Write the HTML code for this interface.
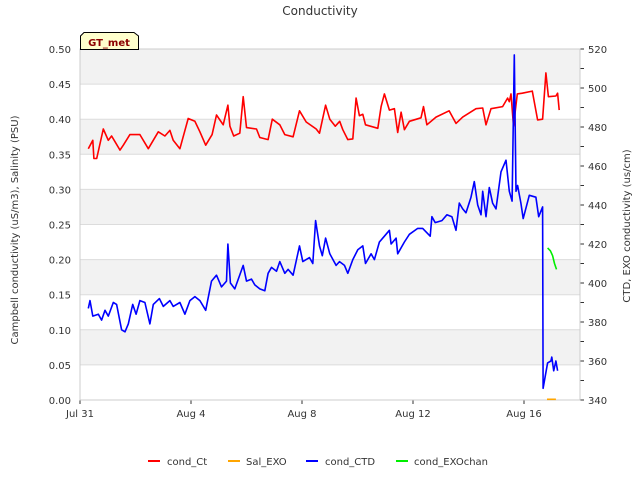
<!DOCTYPE html>
<html><head><meta charset="utf-8"><style>
body{margin:0;background:#fff;font-family:"Liberation Sans","DejaVu Sans",sans-serif}
</style></head><body>
<svg id="c" width="640" height="480" xmlns="http://www.w3.org/2000/svg" font-family="DejaVu Sans, Liberation Sans, sans-serif"></svg>
<script>
const xTickLabels=["Jul 31","Aug 4","Aug 8","Aug 12","Aug 16"];
const xTickDays=[0,4,8,12,16];
const leftTicks=[0,0.05,0.1,0.15,0.2,0.25,0.3,0.35,0.4,0.45,0.5];
const rightTicks=[340,360,380,400,420,440,460,480,500,520];
const ctDays=[0.3,0.46,0.5,0.6,0.84,1.02,1.14,1.26,1.44,1.56,1.8,2.16,2.46,2.82,3.06,3.24,3.36,3.6,3.9,4.14,4.32,4.53,4.76,4.92,5.16,5.33,5.4,5.54,5.76,5.88,6.0,6.36,6.48,6.78,6.93,7.2,7.38,7.68,7.91,8.15,8.51,8.63,8.85,9.0,9.2,9.36,9.47,9.65,9.83,9.95,10.07,10.19,10.29,10.73,10.85,10.97,11.15,11.33,11.45,11.57,11.69,11.87,12.29,12.38,12.5,12.83,13.3,13.55,13.79,14.27,14.51,14.63,14.81,15.23,15.41,15.47,15.53,15.62,15.76,15.94,16.3,16.49,16.67,16.79,16.88,17.15,17.21,17.27];
const ctVals=[0.358,0.37,0.344,0.344,0.386,0.37,0.376,0.368,0.356,0.363,0.378,0.378,0.358,0.382,0.376,0.384,0.37,0.358,0.401,0.397,0.382,0.363,0.378,0.406,0.392,0.42,0.39,0.376,0.38,0.432,0.388,0.386,0.374,0.371,0.4,0.392,0.378,0.375,0.412,0.396,0.386,0.38,0.42,0.4,0.39,0.397,0.385,0.371,0.372,0.43,0.405,0.407,0.392,0.387,0.418,0.436,0.413,0.415,0.381,0.41,0.385,0.397,0.402,0.418,0.392,0.403,0.412,0.394,0.403,0.415,0.416,0.392,0.415,0.418,0.43,0.425,0.436,0.39,0.436,0.437,0.44,0.399,0.4,0.466,0.432,0.433,0.437,0.413];
const ctdDays=[0.3,0.36,0.46,0.66,0.78,0.9,1.02,1.2,1.32,1.5,1.62,1.74,1.9,2.02,2.16,2.34,2.52,2.64,2.86,3.0,3.24,3.36,3.6,3.78,3.96,4.14,4.32,4.53,4.74,4.92,5.1,5.28,5.33,5.42,5.58,5.88,6.0,6.18,6.3,6.48,6.66,6.78,6.9,7.08,7.2,7.38,7.5,7.68,7.91,8.03,8.27,8.39,8.49,8.63,8.73,8.85,9.0,9.23,9.35,9.53,9.65,9.83,10.01,10.19,10.29,10.49,10.61,10.79,10.97,11.15,11.21,11.39,11.45,11.69,11.87,12.17,12.35,12.62,12.68,12.8,13.04,13.22,13.4,13.55,13.67,13.79,13.91,14.09,14.21,14.33,14.45,14.51,14.63,14.75,14.87,14.99,15.17,15.35,15.47,15.57,15.65,15.71,15.77,15.89,15.97,16.19,16.43,16.53,16.67,16.69,16.85,16.97,17.0,17.07,17.15,17.21];
const ctdVals=[387,391,383,384,381,386,383,390,389,376,375,379,389,384,391,390,379,389,392,388,391,388,390,384,391,393,391,386,401,404,398,401,420,400,397,409,401,402,399,397,396,405,408,406,411,405,407,404,419,411,413,410,432,419,414,423,415,409,411,409,405,412,417,419,410,415,412,421,424,427,420,423,415,421,425,428,428,424,434,431,432,435,434,427,441,438,436,444,452,440,435,447,434,449,441,438,457,463,447,442,517,447,450,441,433,445,444,434,439,346,359,360,362,355,360,355];
const exoDays=[16.85,16.95,17.03,17.1,17.17];
const exoVals=[418,416.5,414,410,407];
const salDays=[16.83,17.15];
const salVals=[0.001,0.001];

const svg=document.getElementById('c');const NS='http://www.w3.org/2000/svg';
const X0=80,X1=580,Y0=49,Y1=400,PXD=(524-80)/16;
const xs=d=>X0+d*PXD;
const yl=v=>Y1-v/0.5*(Y1-Y0);
const yr=v=>Y1-(v-340)/180*(Y1-Y0);
function el(t,a,txt){const e=document.createElementNS(NS,t);for(const k in a)e.setAttribute(k,a[k]);if(txt!==undefined)e.textContent=txt;svg.appendChild(e);return e;}
// bands
for(let i=0;i<10;i++){const lo=i*0.05,hi=lo+0.05;if(i%2===1){const r=el('rect',{x:X0,y:yl(hi),width:X1-X0,height:yl(lo)-yl(hi),fill:'#f2f2f2'});

}}
leftTicks.forEach(v=>{const l=el('line',{x1:X0,x2:X1,y1:yl(v),y2:yl(v),stroke:'#dcdcdc','stroke-width':1});


const t=el('text',{x:X0-9,y:yl(v)+4,'text-anchor':'end','font-size':10,fill:'#333'},v.toFixed(2));

});
rightTicks.forEach(v=>{el('line',{x1:X1,x2:X1+4,y1:yr(v),y2:yr(v),stroke:'#333'});
const t=el('text',{x:X1+8,y:yr(v)+4,'font-size':10,fill:'#333'},v);


if(v<520)el('line',{x1:X1,x2:X1+4,y1:yr(v+10),y2:yr(v+10),stroke:'#333'});});
xTickDays.forEach((d,i)=>{el('line',{x1:xs(d),x2:xs(d),y1:Y1,y2:Y1+4,stroke:'#333'});
const t=el('text',{x:xs(d),y:Y1+17,'text-anchor':'middle','font-size':10,fill:'#333'},xTickLabels[i]);

});
const ax=el('rect',{x:X0,y:Y0,width:X1-X0,height:Y1-Y0,fill:'none',stroke:'#ccc'});


function line(ds,vs,f,c,name){const p=el('polyline',{points:ds.map((d,i)=>xs(d).toFixed(1)+','+f(vs[i]).toFixed(1)).join(' '),fill:'none',stroke:c,'stroke-width':1.6,'stroke-linejoin':'round'});

}
line(ctDays,ctVals,yl,'#ff0000','cond-ct-line');
line(salDays,salVals,yl,'#ffa500','sal-exo-line');
line(ctdDays,ctdVals,yr,'#0000ff','cond-ctd-line');
line(exoDays,exoVals,yr,'#00ee00','cond-exochan-line');
</script>
<svg width="640" height="480" style="position:absolute;left:0;top:0" font-family="DejaVu Sans, Liberation Sans, sans-serif">
<text x="320" y="15" text-anchor="middle" font-size="12" fill="#333">Conductivity</text>
<g><path d="M80.5,49.5 V36 L84,32.5 H134 L138.5,36 V49.5 Z" fill="#ffffcc" stroke="#000"/>
<text x="109" y="46" text-anchor="middle" font-size="10" font-weight="bold" fill="#8b0000">GT_met</text></g>
<text transform="translate(18,230) rotate(-90)" text-anchor="middle" font-size="10" fill="#333">Campbell conductivity (uS/m3), Salinity (PSU)</text>
<text transform="translate(630,226) rotate(-90)" text-anchor="middle" font-size="10" fill="#333">CTD, EXO conductivity (us/cm)</text>
<g font-size="10" fill="#333">
<g><line x1="148" x2="160" y1="461" y2="461" stroke="#ff0000" stroke-width="2"/><text x="167" y="465">cond_Ct</text></g>
<g><line x1="228" x2="240" y1="461" y2="461" stroke="#ffa500" stroke-width="2"/><text x="246" y="465">Sal_EXO</text></g>
<g><line x1="306" x2="318" y1="461" y2="461" stroke="#0000ff" stroke-width="2"/><text x="325" y="465">cond_CTD</text></g>
<g><line x1="396" x2="408" y1="461" y2="461" stroke="#00ee00" stroke-width="2"/><text x="414" y="465">cond_EXOchan</text></g>
</g>
</svg>
</body></html>
